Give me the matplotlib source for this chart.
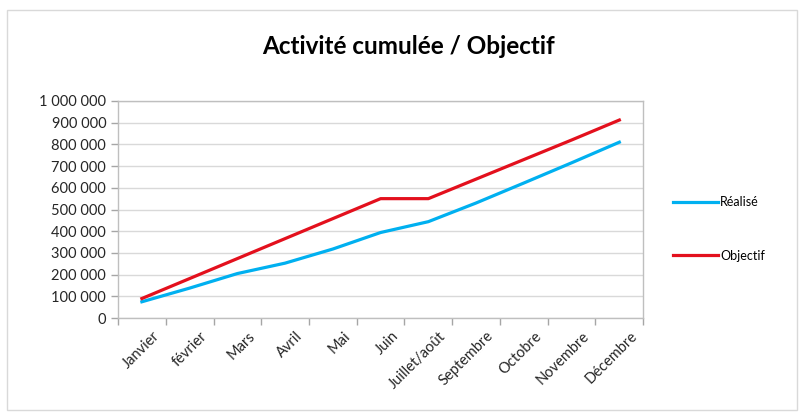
import matplotlib.pyplot as plt
from matplotlib.patches import Rectangle
from matplotlib.ticker import FuncFormatter, FixedLocator

# -----------------------------
# Data
# -----------------------------
months = ["Janvier", "février", "Mars", "Avril", "Mai", "Juin",
          "Juillet/août", "Septembre", "Octobre", "Novembre", "Décembre"]
realise = [75000, 138000, 205000, 253000, 318000, 394000,
           444000, 530000, 622000, 715000, 810000]
objectif = [90000, 182000, 274000, 366000, 458000, 550000,
            550000, 640000, 730000, 820000, 912000]

plt.rcParams['font.family'] = ['Lato', 'DejaVu Sans']

fig = plt.figure(figsize=(7.99, 4.12), dpi=100)
ax = fig.add_axes([0.1477, 0.228, 0.6573, 0.527])

# outer chart border
fig.patches.append(Rectangle((0.009, 0.005), 0.988, 0.97, transform=fig.transFigure,
                             fill=False, edgecolor="#d9d9d9", lw=1))

x = range(len(months))
ax.plot(x, realise, color="#00b0f0", lw=2.3, label="Réalisé")
ax.plot(x, objectif, color="#e3101d", lw=2.3, label="Objectif")

ax.set_xlim(-0.5, len(months) - 0.5)
ax.set_ylim(0, 1000000)
ax.set_yticks(range(0, 1000001, 100000))
ax.yaxis.set_major_formatter(FuncFormatter(lambda v, p: f"{int(v):,}".replace(",", " ")))
ax.tick_params(axis="y", labelsize=10.5, colors="#a6a6a6", labelcolor="#262626", length=5, width=1)
ax.grid(axis="y", color="#d9d9d9", lw=1)
ax.set_axisbelow(True)

# category ticks sit between labels
ax.xaxis.set_major_locator(FixedLocator([i - 0.5 for i in range(len(months) + 1)]))
ax.xaxis.set_major_formatter(FuncFormatter(lambda v, p: ""))
ax.tick_params(axis="x", colors="#a6a6a6", length=5, width=1)
for i, m in enumerate(months):
    ax.text(i + 0.22, -0.05, m, transform=ax.get_xaxis_transform(), rotation=45,
            ha="right", va="top", rotation_mode="anchor", fontsize=10.5, color="#262626")

for s in ax.spines.values():
    s.set_color("#bfbfbf")
    s.set_linewidth(1)

fig.text(0.511, 0.888, "Activité cumulée / Objectif", ha="center", va="center",
         fontsize=17.5, fontweight="bold", color="#000000")

ax.legend(loc="center left", bbox_to_anchor=(1.035, 0.41), frameon=False,
          handlelength=3.6, labelspacing=3.3, fontsize=9, handletextpad=0.2)

plt.savefig("out.png", dpi=100)
